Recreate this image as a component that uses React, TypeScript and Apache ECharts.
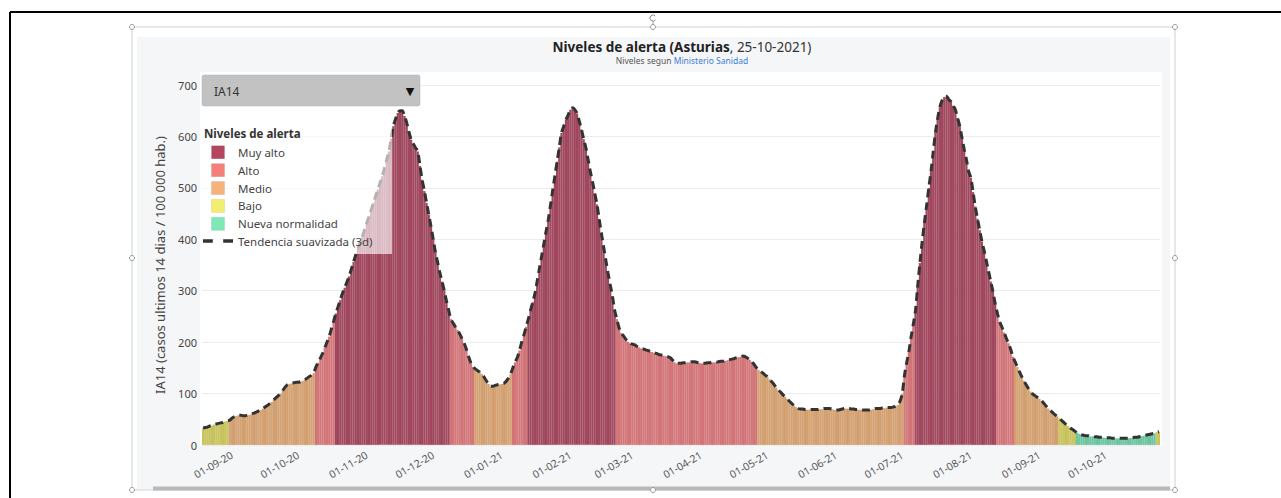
import React, { useEffect, useRef } from "react";
import * as echarts from "echarts";

// ---------- DATA (IA14 daily values) ----------
const aug20 = [33, 34, 35, 37, 38, 40, 41, 42, 43, 44, 46, 47, 48]; // 19..31
const sep20 = [52, 55, 57, 58, 58, 57, 57, 58, 59, 61, 62, 64, 66, 68, 71, 74, 77, 80, 84, 88, 92, 96, 100, 106, 112, 117, 119, 120, 121, 122];
const oct20 = [122, 123, 125, 127, 130, 133, 136, 140, 152, 160, 169, 178, 189, 200, 211, 226, 241, 256, 269, 282, 295, 306, 317, 328, 342, 356, 370, 382, 394, 406, 419];
const nov20 = [432, 445, 458, 471, 484, 497, 510, 523, 539, 555, 571, 596, 620, 634, 646, 650, 650, 640, 627, 610, 594, 586, 578, 571, 543, 516, 494, 471, 448, 425];
const dec20 = [400, 375, 355, 335, 318, 300, 280, 262, 245, 237, 230, 224, 216, 207, 198, 186, 172, 160, 152, 148, 145, 142, 138, 132, 125, 119, 114, 114, 116, 117, 118];
const jan21 = [119, 120, 124, 130, 138, 150, 161, 170, 184, 200, 214, 230, 245, 262, 278, 295, 319, 343, 367, 391, 415, 438, 466, 495, 523, 551, 579, 607, 620, 632, 642];
const feb21 = [652, 656, 652, 645, 630, 614, 595, 578, 555, 532, 512, 490, 468, 440, 412, 386, 360, 335, 312, 290, 262, 245, 228, 218, 212, 206, 201, 198];
const mar21 = [196, 195, 192, 190, 188, 187, 185, 184, 182, 181, 179, 178, 176, 175, 174, 173, 172, 170, 166, 161, 159, 159, 159, 160, 160, 161, 161, 162, 162, 161, 160];
const apr21 = [159, 159, 159, 160, 160, 161, 161, 161, 162, 163, 163, 164, 165, 166, 167, 168, 170, 171, 172, 173, 172, 169, 166, 162, 157, 151, 146, 143, 140, 136];
const may21 = [133, 128, 123, 118, 112, 107, 103, 98, 94, 90, 85, 81, 77, 74, 71, 70, 70, 69, 69, 69, 69, 69, 69, 69, 70, 70, 71, 71, 71, 70, 69];
const jun21 = [68, 68, 69, 70, 71, 71, 71, 70, 70, 69, 69, 69, 68, 68, 68, 68, 69, 70, 71, 71, 71, 72, 72, 73, 73, 73, 74, 75, 78, 85];
const jul21 = [100, 135, 160, 182, 210, 235, 262, 310, 354, 395, 432, 465, 500, 532, 570, 607, 635, 657, 670, 677, 678, 672, 668, 660, 652, 636, 620, 597, 575, 555, 532];
const aug21 = [520, 492, 464, 440, 418, 396, 378, 358, 338, 318, 298, 275, 256, 240, 230, 219, 208, 198, 186, 172, 162, 152, 142, 133, 125, 117, 110, 104, 99, 96, 93];
const sep21 = [90, 86, 81, 76, 71, 67, 63, 59, 56, 52, 48, 44, 40, 37, 33, 30, 27, 24, 22, 20, 19, 18, 18, 17, 17, 16, 16, 15, 15, 15];
const oct21 = [14, 14, 14, 13, 13, 13, 13, 13, 13, 13, 13, 14, 14, 15, 15, 16, 17, 18, 19, 20, 21, 22, 23, 25, 26];

const monthBlocks = [
  { yy: "20", mm: "08", firstDay: 19, values: aug20 },
  { yy: "20", mm: "09", firstDay: 1, values: sep20 },
  { yy: "20", mm: "10", firstDay: 1, values: oct20 },
  { yy: "20", mm: "11", firstDay: 1, values: nov20 },
  { yy: "20", mm: "12", firstDay: 1, values: dec20 },
  { yy: "21", mm: "01", firstDay: 1, values: jan21 },
  { yy: "21", mm: "02", firstDay: 1, values: feb21 },
  { yy: "21", mm: "03", firstDay: 1, values: mar21 },
  { yy: "21", mm: "04", firstDay: 1, values: apr21 },
  { yy: "21", mm: "05", firstDay: 1, values: may21 },
  { yy: "21", mm: "06", firstDay: 1, values: jun21 },
  { yy: "21", mm: "07", firstDay: 1, values: jul21 },
  { yy: "21", mm: "08", firstDay: 1, values: aug21 },
  { yy: "21", mm: "09", firstDay: 1, values: sep21 },
  { yy: "21", mm: "10", firstDay: 1, values: oct21 },
];

// alert level in force from each date on
const levelChangeDates = ["19-08-20", "31-08-20", "09-10-20", "18-10-20", "09-12-20", "20-12-20", "06-01-21", "13-01-21", "22-02-21", "27-04-21", "02-07-21", "07-07-21", "13-08-21", "21-08-21", "10-09-21", "18-09-21", "24-10-21"];
const levelChangeNames = ["Bajo", "Medio", "Alto", "Muy alto", "Alto", "Medio", "Alto", "Muy alto", "Alto", "Medio", "Alto", "Muy alto", "Alto", "Medio", "Bajo", "Nueva normalidad", "Bajo"];

const levels = ["Muy alto", "Alto", "Medio", "Bajo", "Nueva normalidad"];
const levelBarColors = ["#a2485f", "#d5777a", "#d6a272", "#cac55c", "#6dc8a1"];
const levelIconColors = ["#b5455f", "#f47f7b", "#f6b27b", "#f4ee70", "#7ee8b9"];
const trendName = "Tendencia suavizada (3d)";
const yTicks = [0, 100, 200, 300, 400, 500, 600, 700];

// ---------- derived tables ----------
const dates: string[] = [];
const values: number[] = [];
monthBlocks.forEach((b) => {
  b.values.forEach((v, i) => {
    const d = String(b.firstDay + i).padStart(2, "0");
    dates.push(`${d}-${b.mm}-${b.yy}`);
    values.push(v);
  });
});
const levelOfDay: string[] = [];
{
  let cur = levelChangeNames[0];
  dates.forEach((d) => {
    const k = levelChangeDates.indexOf(d);
    if (k >= 0) cur = levelChangeNames[k];
    levelOfDay.push(cur);
  });
}

const FONT = '"Noto Sans", "DejaVu Sans", sans-serif';
const SQUARE = "path://M0,0L10,0L10,10L0,10Z";
const DASHES = "path://M0,0L8.5,0L8.5,3L0,3Z M17.5,0L26,0L26,3L17.5,3Z";

export default function App() {
  const ref = useRef<HTMLDivElement>(null);
  useEffect(() => {
    if (!ref.current) return;
    const chart = echarts.init(ref.current, undefined, { renderer: "svg" });

    const barSeries = levels.map((lv, i) => ({
      name: lv,
      type: "bar",
      stack: "ia",
      barWidth: "115%",
      data: values.map((v, k) => (levelOfDay[k] === lv ? v : "-")),
      itemStyle: {
        color: levelBarColors[i],
        borderColor: "rgba(70,70,70,0.10)",
        borderWidth: 0.3,
      },
      emphasis: { disabled: true },
      z: 2,
    }));

    const handles = [
      [132, 27], [653, 27], [1175, 27],
      [132, 258], [1175, 258],
      [132, 490], [653, 490], [1175, 490],
    ];

    chart.setOption({
      animation: false,
      textStyle: { fontFamily: FONT },
      grid: { left: 202, right: 121, top: 85, bottom: 53 },
      xAxis: {
        type: "category",
        data: dates,
        boundaryGap: true,
        axisLine: { show: false },
        axisTick: { show: false },
        splitLine: { show: false },
        axisLabel: {
          interval: (_i: number, v: string) => v.startsWith("01-"),
          rotate: 30,
          fontSize: 10.5,
          color: "#555",
          margin: 9,
          fontFamily: FONT,
        },
      },
      yAxis: {
        type: "value",
        min: yTicks[0],
        max: yTicks[yTicks.length - 1],
        interval: 100,
        name: "IA14 (casos ultimos 14 dias / 100 000 hab.)",
        nameLocation: "middle",
        nameGap: 36,
        nameTextStyle: { fontSize: 13, color: "#444", fontFamily: FONT },
        axisLine: { show: false },
        axisTick: { show: false },
        axisLabel: { fontSize: 11, color: "#444", margin: 5, fontFamily: FONT },
        splitLine: { lineStyle: { color: "#ececec", width: 1 } },
      },
      legend: {
        orient: "vertical",
        left: 203,
        top: 145.5,
        padding: 0,
        itemWidth: 30,
        itemHeight: 13,
        itemGap: 4.4,
        symbolKeepAspect: true,
        selectedMode: false,
        textStyle: { fontSize: 11.5, color: "#444", fontFamily: FONT },
        data: [
          ...levels.map((lv, i) => ({
            name: lv,
            icon: SQUARE,
            itemStyle: { color: levelIconColors[i], borderColor: "rgba(0,0,0,0.15)", borderWidth: 0.5 },
          })),
          { name: trendName, icon: DASHES, itemStyle: { color: "#333", borderWidth: 0 } },
        ],
        z: 6,
      },
      series: [
        ...barSeries,
        {
          name: trendName,
          type: "line",
          data: values,
          smooth: 0.3,
          symbol: "none",
          lineStyle: { color: "#333", width: 3, type: [8, 5] },
          itemStyle: { color: "#333" },
          emphasis: { disabled: true },
          z: 3,
        },
      ],
      graphic: [
        // page frame
        { type: "line", z: -20, shape: { x1: 10, y1: 12, x2: 1281, y2: 12 }, style: { stroke: "#000", lineWidth: 2 } },
        { type: "line", z: -20, shape: { x1: 10, y1: 12, x2: 10, y2: 498 }, style: { stroke: "#000", lineWidth: 2 } },
        // selection frame
        { type: "rect", z: -20, shape: { x: 132, y: 27, width: 1043, height: 463 }, style: { fill: "none", stroke: "#cfcfcf", lineWidth: 1 } },
        { type: "line", z: -20, shape: { x1: 653, y1: 21, x2: 653, y2: 27 }, style: { stroke: "#aaa", lineWidth: 1 } },
        { type: "arc", z: -20, shape: { cx: 653, cy: 18, r: 3, startAngle: 0.6, endAngle: 5.6 }, style: { stroke: "#888", fill: "none", lineWidth: 1 } },
        ...handles.map(([x, y]) => ({
          type: "circle",
          z: 20,
          shape: { cx: x, cy: y, r: 2.5 },
          style: { fill: "#fff", stroke: "#999", lineWidth: 1 },
        })),
        // chart background
        { type: "rect", z: -15, shape: { x: 137, y: 37, width: 1033, height: 452 }, style: { fill: "#f5f6f8" } },
        { type: "rect", z: -10, shape: { x: 200, y: 72, width: 962, height: 374 }, style: { fill: "#ffffff" } },
        // scrollbar
        { type: "rect", z: -5, shape: { x: 153, y: 486.5, width: 1017, height: 4 }, style: { fill: "#b9b9b9" } },
        // title
        {
          type: "text",
          z: 10,
          style: {
            x: 682,
            y: 47,
            align: "center",
            verticalAlign: "middle",
            text: "{b|Niveles de alerta (Asturias}{n|, 25-10-2021)}",
            rich: {
              b: { fontSize: 13.5, fontWeight: "bold", fill: "#222", fontFamily: FONT },
              n: { fontSize: 13.5, fill: "#333", fontFamily: FONT },
            },
          },
        },
        {
          type: "text",
          z: 10,
          style: {
            x: 682,
            y: 60,
            align: "center",
            verticalAlign: "middle",
            text: "{g|Niveles segun }{l|Ministerio Sanidad}",
            rich: {
              g: { fontSize: 8.5, fill: "#555", fontFamily: FONT },
              l: { fontSize: 8.5, fill: "#3c7fd6", fontFamily: FONT },
            },
          },
        },
        // legend backdrop
        { type: "rect", z: 4, shape: { x: 200, y: 118, width: 192, height: 136 }, style: { fill: "rgba(255,255,255,0.63)" } },
        {
          type: "text",
          z: 7,
          style: { x: 204, y: 133, text: "Niveles de alerta", verticalAlign: "middle", fontSize: 11.5, fontWeight: "bold", fill: "#333", fontFamily: FONT },
        },
        // dropdown
        { type: "rect", z: 8, shape: { x: 202, y: 75, width: 218, height: 31, r: 2 }, style: { fill: "#c2c2c2", stroke: "#b0b0b0", lineWidth: 0.5 } },
        { type: "text", z: 9, style: { x: 214, y: 91, text: "IA14", verticalAlign: "middle", fontSize: 12, fill: "#333", fontFamily: FONT } },
        { type: "text", z: 9, style: { x: 410, y: 90, text: "▼", align: "center", verticalAlign: "middle", fontSize: 11, fill: "#111", fontFamily: FONT } },
      ],
    });

    return () => chart.dispose();
  }, []);

  return (
    <div
      ref={ref}
      style={{ position: "fixed", left: 0, top: 0, width: 1281, height: 498, background: "#fff" }}
    />
  );
}
